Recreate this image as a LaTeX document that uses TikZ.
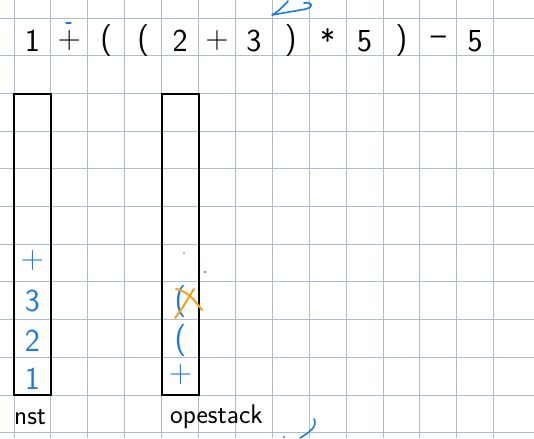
\documentclass[tikz,border=0pt]{standalone}
\usepackage{tikz}

\definecolor{gridblue}{RGB}{172,189,214}
\definecolor{inkblue}{RGB}{30,120,230}
\definecolor{inkorange}{RGB}{245,160,20}

\begin{document}
\begin{tikzpicture}[x=1pt,y=-1pt]
\tikzstyle{gridline}=[gridblue,line width=0.9pt]
\tikzstyle{stackbox}=[draw=black,line width=1.1pt,rectangle,minimum width=37pt,minimum height=301pt,inner sep=0pt]
\tikzstyle{token}=[font=\sffamily\fontsize{32}{32}\selectfont,inner sep=0pt]
\tikzstyle{item}=[token,text=inkblue]
\tikzstyle{caption}=[font=\sffamily\fontsize{27}{27}\selectfont,inner sep=0pt]
\tikzstyle{scribble}=[inkblue,line width=1.6pt,line cap=round,line join=round]

\useasboundingbox[fill=white] (0,0) rectangle (534,438);

% paper
\foreach \k in {0,...,13}
  \draw[gridline] (14+36.9*\k,0) -- (14+36.9*\k,438);
\foreach \k in {0,...,11}
  \draw[gridline] (0,18+37.7*\k) -- (534,18+37.7*\k);

% the expression
\foreach \c [count=\i] in {{1},{+},{(},{(},{2},{+},{3},{)},{*},{5},{)},{\textendash},{5}}
  \node[token] (t\i) at (14+36.9*\i-18.45,41) {\c};
\draw[scribble,line width=1.2pt] (66,23) -- (71,23);

\node[stackbox] (numstack) at (32.5,244.5) {};
\node[stackbox] (opstack) at (180.5,244.5) {};

\node[item] (n1) at (32.5,379) {1};
\node[item] (n2) at (32.5,341) {2};
\node[item] (n3) at (32.5,301) {3};
\node[item] (n4) at (32.5,261) {+};

\node[item] (o1) at (180.5,375) {+};
\node[item] (o2) at (180.5,341) {(};
\node[item] (o3) at (180.5,302) {(};
%\node[item] (o4) at (180.5,261) {*};
\draw[inkorange,line width=2pt,line cap=round] (176,289) .. controls (188,291) and (196,302) .. (202,310);
\draw[inkorange,line width=2pt,line cap=round] (175,318) .. controls (183,308) and (188,298) .. (194,289);

\node[caption,anchor=west] (numlabel) at (14,417) {nst};
\node[caption,anchor=west] (oplabel) at (170,417) {opestack};

% stray pen marks
\draw[scribble] (288,1) .. controls (282,8) and (276,13) .. (272,15) -- (306,9) .. controls (313,7) and (314,2) .. (304,3);
\draw[scribble] (300,438) .. controls (310,432) and (318,426) .. (314,419);
\fill[inkblue] (284,437) circle (1.2pt);
\fill[inkblue] (184,253) circle (0.9pt);
\fill[inkblue] (205,272) circle (1.2pt);
\end{tikzpicture}
\end{document}
